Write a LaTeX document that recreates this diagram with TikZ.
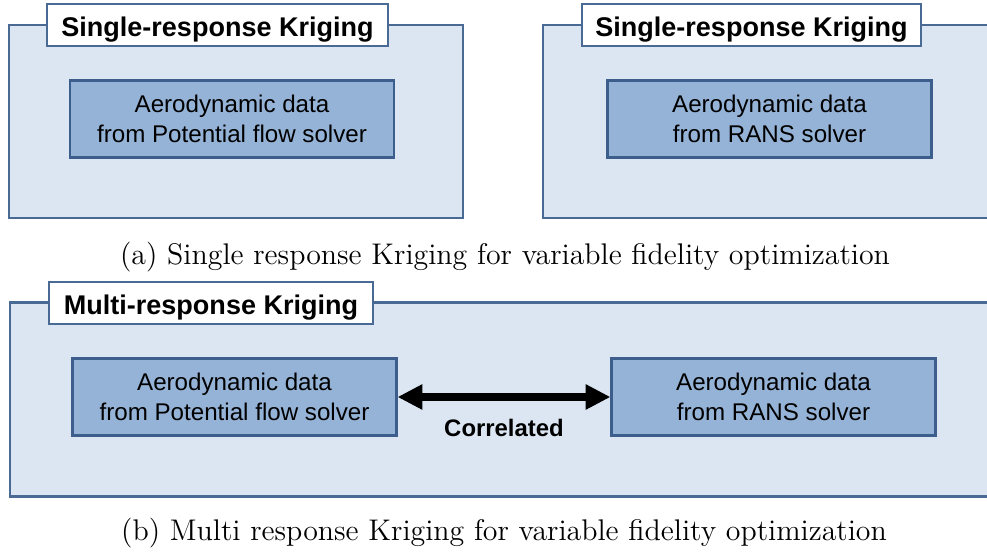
\documentclass[tikz,border=0pt]{standalone}
\usepackage{fontspec}
\newfontfamily\arial{Liberation Sans}
\usetikzlibrary{arrows.meta}
\definecolor{panelfill}{HTML}{DCE6F2}
\definecolor{panelline}{HTML}{4A6A96}
\definecolor{datafill}{HTML}{95B3D7}
\definecolor{dataline}{HTML}{3B5E8C}
\tikzstyle{panel}=[rectangle,draw=panelline,fill=panelfill,line width=0.8pt,inner sep=0pt]
\tikzstyle{tag}=[rectangle,draw=panelline,fill=white,line width=0.6pt,inner sep=0pt,minimum height=42*0.385pt,text height=10pt,text depth=1pt,font=\arial\bfseries\fontsize{10.4}{12}\selectfont]
\tikzstyle{data}=[rectangle,draw=dataline,fill=datafill,line width=0.8pt,inner sep=0pt,minimum width=324*0.385pt,minimum height=77*0.385pt,align=center,font=\arial\fontsize{9.3}{11.6}\selectfont]
\tikzstyle{caption}=[inner sep=0pt,font=\fontsize{11.5}{13}\selectfont]
\newcommand{\block}{\node[data]}

\begin{document}
\begin{tikzpicture}[x=0.385pt,y=-0.385pt]
		\useasboundingbox (0,0) rectangle (987,552);
		% % % % % % % % % % % % % % % % % % % % % % % % % % % % %
		%*********************
		\node [panel,minimum width=454*0.385pt,minimum height=193*0.385pt] (p1) at (236,121.5) {};
		\node [tag,minimum width=341*0.385pt] (t1) at (217.5,25) {Single-response Kriging};
		\block (s1) at (232,119) {Aerodynamic data\\from Potential flow solver};
		%*********************
		\node [panel,minimum width=454*0.385pt,minimum height=193*0.385pt] (p2) at (770,121.5) {};
		\node [tag,minimum width=339*0.385pt] (t2) at (751.5,25) {Single-response Kriging};
		\block (s2) at (769.5,119) {Aerodynamic data\\from RANS solver};
		%*********************
		\node [caption] (ca) at (505,257) {(a) Single response Kriging for variable fidelity optimization};
		% % % % % % % % % % % % % % % % % % % % % % % % % % % % %
		\node [panel,minimum width=990*0.385pt,minimum height=194*0.385pt] (p3) at (505,399.5) {};
		\node [tag,minimum width=324*0.385pt] (t3) at (211,303) {Multi-response Kriging};
		\block (m1) at (234.5,397) {Aerodynamic data\\from Potential flow solver};
		\block (m2) at (773.5,397) {Aerodynamic data\\from RANS solver};
		\node [font=\arial\bfseries\fontsize{9.2}{11}\selectfont] (cor) at (504,428) {Correlated};
		%*********************
		\node [caption] (cb) at (504,533) {(b) Multi response Kriging for variable fidelity optimization};
		%*********************
		\path
		(m1) edge [line width=3pt,{Triangle[length=9.6pt,width=9.2pt]}-{Triangle[length=9.6pt,width=9.2pt]}] (m2)
		;
\end{tikzpicture}
\end{document}
